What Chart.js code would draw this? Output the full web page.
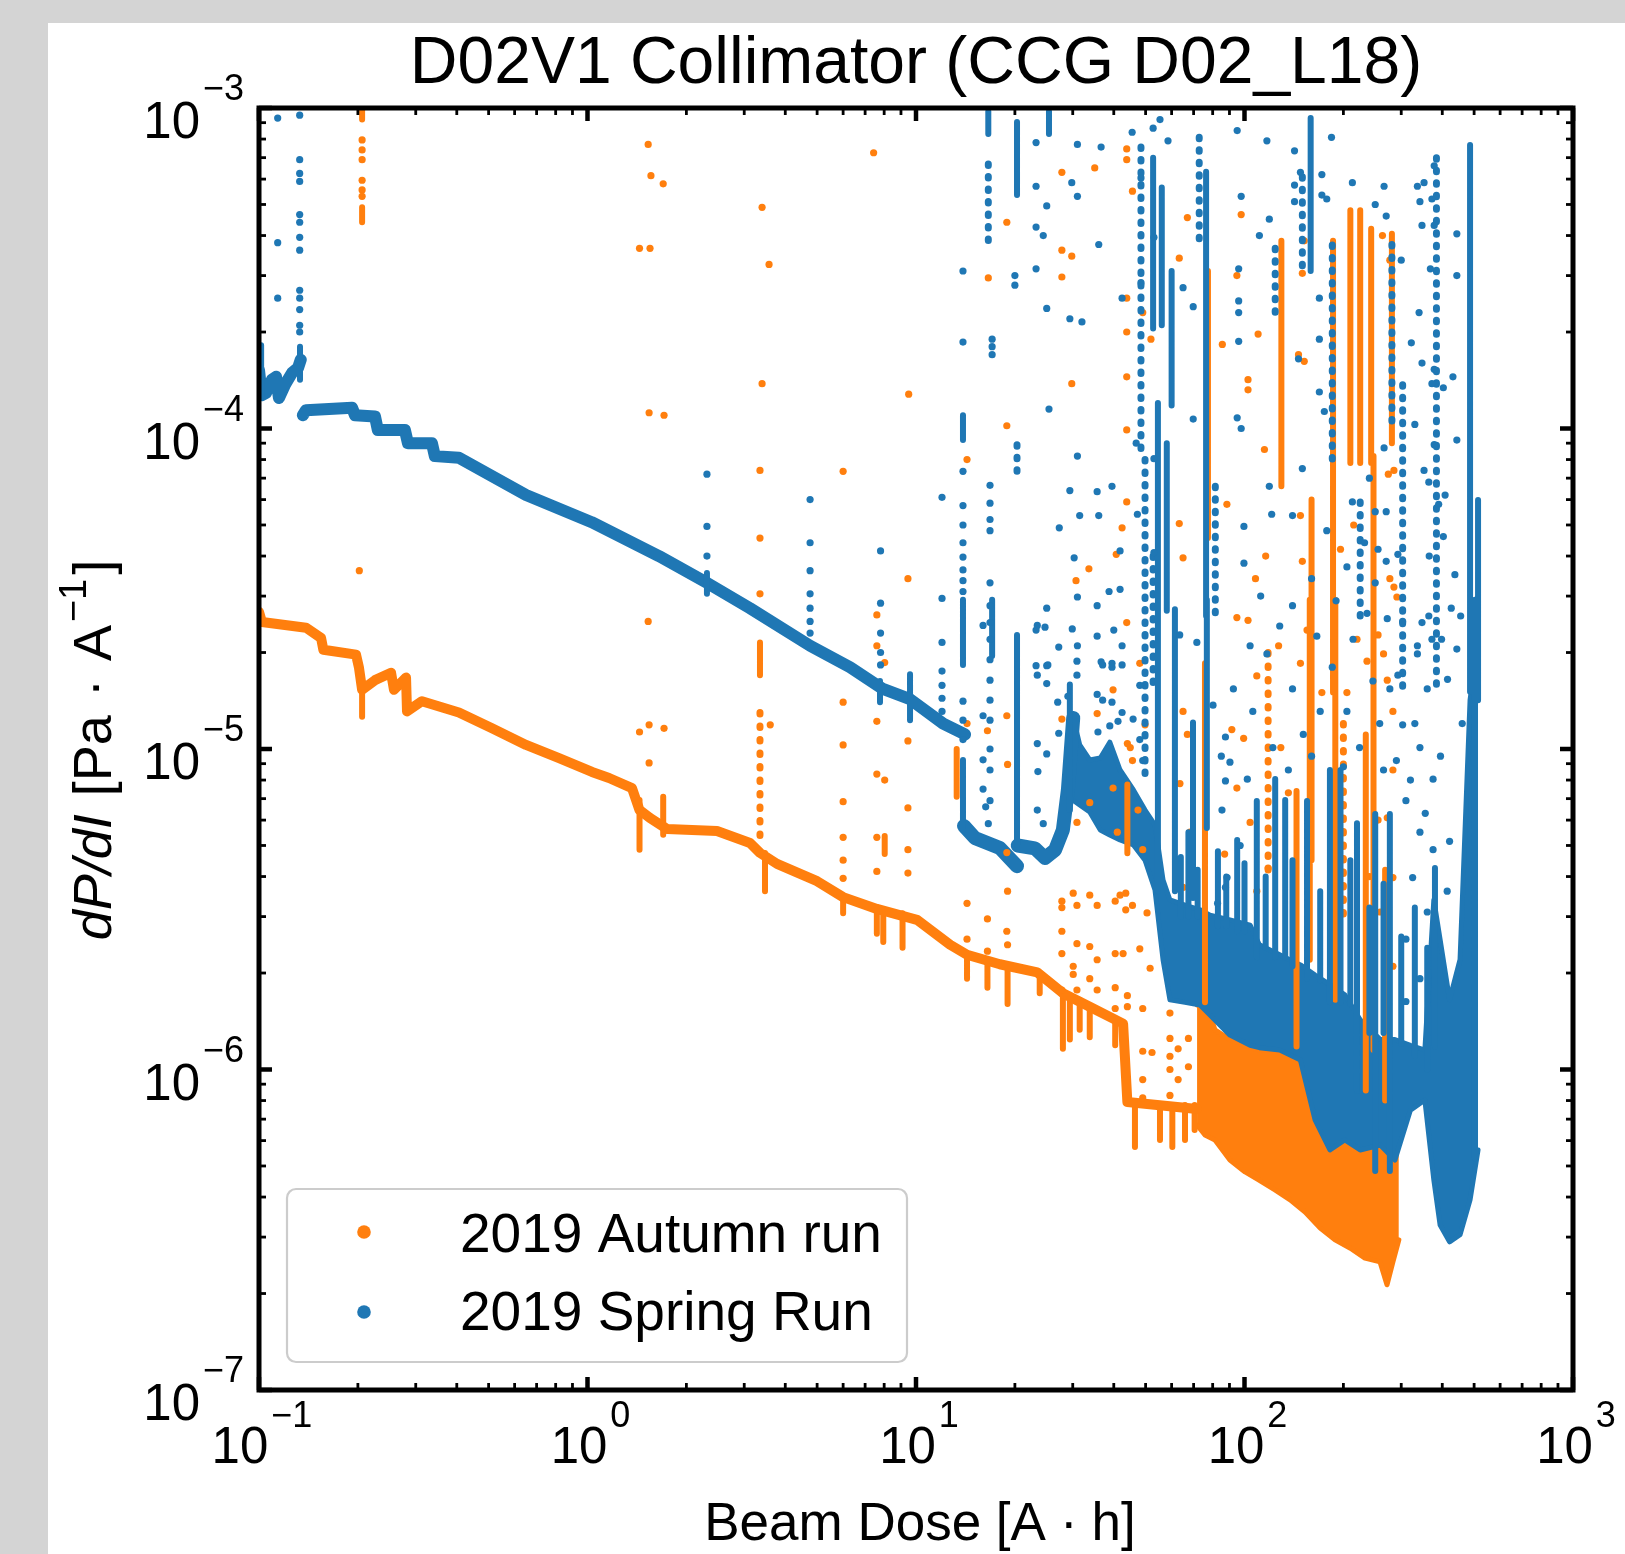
<!DOCTYPE html>
<html><head><meta charset="utf-8">
<script src="https://cdn.jsdelivr.net/npm/chart.js@4.4.0/dist/chart.umd.min.js"></script>
<style>
html,body{margin:0;padding:0;width:1625px;height:1554px;overflow:hidden;background:#d4d4d4;}
#panel{position:absolute;left:48px;top:23px;width:1577px;height:1531px;background:#fff;}
#c{position:absolute;left:0;top:0;}
</style></head><body>
<div id="panel"></div>
<canvas id="c" width="1625" height="1554"></canvas>
<script>
// ---------------- text ----------------
const titleText = 'D02V1 Collimator (CCG D02_L18)';
const xAxisTitleParts = ['Beam Dose [A', '\u00B7', 'h]'];
const seriesNames = ['2019 Autumn run', '2019 Spring Run'];
const xTickExps = [-1, 0, 1, 2, 3];
const yTickExps = [-7, -6, -5, -4, -3];

// ---------------- 2019 Spring Run (blue) ----------------
const springCurveX = [0.1, 0.102, 0.105, 0.1095, 0.1127, 0.115, 0.12, 0.126, 0.1315, 0.134, 0.135,
  0.136, 0.139, 0.192, 0.196, 0.2255, 0.23, 0.278, 0.284, 0.336, 0.343, 0.406, 0.65, 1.03, 1.65, 2.31, 3.12, 4.76, 6.3, 7.93, 9.59, 12.1, 14.1];
const springCurveY = [1.52e-4, 1.27e-4, 1.29e-4, 1.42e-4, 1.45e-4, 1.245e-4, 1.37e-4, 1.49e-4, 1.545e-4, 1.64e-4, null,
  1.10e-4, 1.14e-4, 1.16e-4, 1.10e-4, 1.09e-4, 9.9e-5, 9.9e-5, 9.0e-5, 9.0e-5, 8.2e-5, 8.1e-5, 6.2e-5, 5.1e-5, 4.0e-5, 3.3e-5, 2.75e-5, 2.1e-5, 1.8e-5, 1.54e-5, 1.43e-5, 1.2e-5, 1.11e-5];
const springFloorX = [14.0, 15.1, 18.0, 20.3, 20.35, 20.4, 23.0, 24.7, 26.5, 28.0, 29.0, 30.1];
const springFloorY = [5.75e-6, 5.28e-6, 4.91e-6, 4.31e-6, null, 5.0e-6, 4.9e-6, 4.57e-6, 4.84e-6, 5.59e-6, 7.45e-6, 1.25e-5];
const springBandX = [30, 31.5, 33.8, 36.4, 38.9, 41.8, 45.9, 49.8, 53.4, 56.5, 59.3, 65.9, 73.2, 78.5, 90.3, 104, 111, 128, 148, 164, 182, 202, 225, 259, 287, 320, 354, 377, 394, 421, 453, 486, 514];
const springBandTop = [1.27e-5, 1.03e-5, 9.24e-6, 9.37e-6, 1.05e-5, 8.6e-6, 7.45e-6, 6.45e-6, 5.79e-6, 3.9e-6, 3.38e-6, 3.26e-6, 3.15e-6, 3.03e-6, 2.93e-6, 2.82e-6, 2.45e-6, 2.28e-6, 2.12e-6, 1.97e-6, 1.84e-6, 1.71e-6, 1.43e-6, 1.24e-6, 1.24e-6, 1.19e-6, 1.15e-6, 3.38e-6, 2.54e-6, 1.65e-6, 2.2e-6, 1.42e-5, 2.19e-5];
const springBandBottom = [6.93e-6, 6.69e-6, 6.36e-6, 5.59e-6, 5.39e-6, 5.2e-6, 5.02e-6, 4.5e-6, 3.63e-6, 2.2e-6, 1.65e-6, 1.62e-6, 1.59e-6, 1.48e-6, 1.28e-6, 1.19e-6, 1.17e-6, 1.15e-6, 1.07e-6, 6.96e-7, 5.61e-7, 6.03e-7, 5.61e-7, 5.81e-7, 5.22e-7, 7.47e-7, 8.03e-7, 4.52e-7, 3.27e-7, 2.9e-7, 3.05e-7, 3.92e-7, 5.61e-7];
// dense vertical runs of points: [x, top, bottom]
const springStreaks = [
  [0.1015, 1.82e-4, 1.25e-4], [0.1333, 1.80e-4, 1.42e-4], [2.31, 3.54e-5, 3.05e-5], [7.77, 1.63e-5, 1.40e-5], [9.59, 1.71e-5, 1.23e-5],
  [13.9, 1.10e-4, 9.2e-5], [13.9, 2.92e-5, 1.83e-5], [13.9, 9.24e-6, 5.59e-6], [16.6, 9.79e-4, 8.29e-4],
  [17.05, 2.92e-5, 1.95e-5], [20.3, 9.04e-4, 5.35e-4], [20.3, 2.27e-5, 5.02e-6], [25.4, 9.79e-4, 8.29e-4], [29.4, 1.59e-5, 6.45e-6],
  [52.7, 7.0e-4, 2.05e-4], [56, 5.65e-4, 2.1e-4], [60, 3.1e-4, 1.18e-4], [54.5, 1.2e-4, 2.9e-5], [58, 9.0e-5, 2.7e-5],
  [54.5, 2.92e-5, 3.6e-6], [61.4, 2.73e-5, 3.6e-6], [69.7, 1.21e-5, 3.43e-6], [76.4, 6.32e-4, 2.6e-5], [76.8, 2.92e-5, 5.67e-6],
  [109, 6.88e-6, 2.24e-6], [124, 8.06e-6, 2.24e-6], [133, 6.93e-6, 2.24e-6], [155, 6.88e-6, 1.92e-6], [159, 9.31e-4, 3.1e-4],
  [182, 8.6e-6, 1.62e-6], [196, 8.6e-6, 1.62e-6], [220, 5.87e-6, 8.57e-7], [250, 6.27e-6, 4.82e-7], [277, 6.27e-6, 4.82e-7],
  [380, 4.25e-6, 1.18e-6], [486, 7.67e-4, 1.51e-5], [503, 2.92e-5, 5.29e-7], [514, 5.98e-5, 1.42e-5],
  [64, 4.6e-6, 3.0e-6], [67.5, 5.5e-6, 3.0e-6], [72, 4.2e-6, 3.0e-6], [83, 4.8e-6, 2.8e-6], [88, 4.0e-6, 2.8e-6], [95, 5.2e-6, 2.7e-6],
  [100, 4.4e-6, 2.7e-6], [116, 4.0e-6, 2.4e-6], [140, 4.5e-6, 2.1e-6], [170, 3.6e-6, 1.9e-6], [210, 4.5e-6, 1.6e-6], [240, 3.2e-6, 1.3e-6],
  [265, 3.8e-6, 1.3e-6], [300, 2.6e-6, 1.2e-6], [330, 3.2e-6, 1.1e-6], [360, 2.4e-6, 1.0e-6]
];
// looser vertical columns of separate points: [x, top, bottom]
const springColumns = [
  [16.6, 6.69e-4, 3.85e-4], [20.3, 8.9e-5, 6.8e-5], [48.4, 7.55e-4, 8.0e-5], [49.8, 8.0e-5, 8.0e-6], [52.7, 4.0e-5, 1.5e-5],
  [72.8, 8.1e-4, 3.65e-4], [81.5, 6.6e-5, 2.6e-5], [124, 3.65e-4, 2.2e-4], [150, 6.1e-4, 3.1e-4], [185, 3.74e-4, 7.81e-5],
  [225, 5.9e-5, 2.6e-5], [281, 3.75e-4, 1.03e-4], [303, 1.37e-4, 1.5e-5], [384, 7.0e-4, 1.5e-5]
];
const springDots = [
  [0.114, 9.3e-4], [0.114, 3.8e-4], [0.114, 2.55e-4],
  [0.133, 9.5e-4], [0.133, 6.9e-4], [0.133, 6.25e-4], [0.133, 5.9e-4], [0.133, 4.65e-4], [0.133, 4.4e-4], [0.133, 3.95e-4], [0.133, 3.6e-4], [0.133, 2.7e-4], [0.133, 2.55e-4], [0.133, 2.35e-4], [0.133, 2.1e-4], [0.133, 2.0e-4],
  [2.31, 7.2e-5], [2.31, 4.95e-5], [2.31, 4.0e-5],
  [4.76, 6.0e-5], [4.76, 4.4e-5], [4.76, 3.6e-5], [4.76, 3.05e-5], [4.76, 2.75e-5], [4.76, 2.5e-5], [4.76, 2.3e-5],
  [7.8, 4.15e-5], [7.8, 2.85e-5], [7.8, 2.3e-5], [7.8, 2.0e-5], [7.8, 1.83e-5],
  [12, 6.1e-5], [12, 2.95e-5], [12, 2.15e-5], [12, 1.75e-5], [12, 1.58e-5], [12, 1.44e-5], [12, 1.31e-5],
  [13.9, 3.1e-4], [13.9, 1.86e-4], [13.9, 7.35e-5], [13.9, 5.75e-5], [13.9, 5.0e-5], [13.9, 4.4e-5], [13.9, 3.97e-5], [13.9, 3.62e-5], [13.9, 3.35e-5], [13.9, 3.1e-5], [13.9, 1.41e-5], [13.9, 1.23e-5], [13.9, 1.07e-5],
  [16.8, 6.65e-5], [16.8, 5.85e-5], [16.8, 5.2e-5], [16.8, 4.8e-5], [16.8, 3.3e-5], [16.8, 2.8e-5], [16.8, 2.48e-5], [16.8, 2.2e-5], [16.8, 1.9e-5], [16.8, 1.64e-5], [16.8, 1.42e-5], [16.8, 1.23e-5], [16.8, 1.0e-5], [16.8, 8.6e-6], [16.8, 6.9e-6],
  [17.05, 1.9e-4], [17.05, 1.8e-4], [17.05, 1.7e-4], [20.0, 3.0e-4], [20.0, 2.8e-4],
  [23.2, 7.8e-4], [23.2, 5.7e-4], [23.2, 4.25e-4], [23.2, 3.15e-4], [25, 4.95e-4], [24.4, 4.0e-4], [25, 2.37e-4], [25.4, 1.15e-4],
  [31, 7.7e-4], [29.8, 5.85e-4], [31, 5.3e-4], [29.4, 2.2e-4], [31, 8.2e-5], [29.4, 6.4e-5],
  [36.6, 7.55e-4], [36, 3.75e-4], [35.6, 6.35e-5], [39.5, 6.6e-5], [42.4, 2.55e-4], [46.8, 9.0e-5], [47.2, 5.4e-5],
  [45.5, 8.4e-4], [48.4, 6.05e-4], [52.7, 8.65e-4], [55.3, 9.2e-4], [58.5, 7.9e-4],
  [95, 8.5e-4], [97.7, 5.3e-4], [96, 3.15e-4], [96, 2.5e-4], [95, 1.08e-4], [99.6, 3.8e-5],
  [117, 7.9e-4], [119, 4.5e-4], [111, 4.0e-4], [142, 7.35e-4], [142, 5.75e-4], [148, 6.3e-4], [142, 5.1e-4],
  [172, 6.2e-4], [172, 5.35e-4], [178, 5.2e-4], [184, 8.1e-4], [213, 5.85e-4],
  [250, 5.0e-4], [266, 5.7e-4], [270, 4.6e-4], [300, 3.35e-4],
  [336, 5.7e-4], [352, 5.85e-4], [372, 5.2e-4], [378, 6.6e-4], [342, 5.1e-4], [347, 4.3e-4], [378, 4.3e-4], [368, 3.15e-4], [443, 4.05e-4], [443, 3.0e-4],
  [340, 2.3e-4], [322, 1.85e-4], [347, 1.6e-4], [378, 1.53e-4], [372, 1.38e-4], [403, 1.34e-4], [431, 1.45e-4], [330, 1.03e-4], [378, 8.9e-5], [352, 7.4e-5], [364, 6.8e-5], [443, 9.2e-5], [408, 6.2e-5], [437, 3.5e-5], [403, 4.6e-5], [426, 2.75e-5], [364, 2.6e-5], [347, 2.48e-5], [372, 2.2e-5], [336, 2.1e-5], [443, 2.05e-5],
  [32, 2.15e-4], [53, 3.95e-4], [48.4, 2.85e-4], [53, 4.1e-5], [53, 8.05e-5], [65, 2.75e-4], [69.8, 2.4e-4], [69.8, 1.07e-4], [96, 2.3e-4], [96, 1.87e-4], [97.7, 1.0e-4], [99.6, 4.95e-5], [119, 6.6e-5], [121, 5.4e-5], [140, 5.35e-5], [150, 7.5e-5], [146, 1.65e-4], [169, 2.55e-4], [169, 1.9e-4], [169, 1.3e-4], [175, 1.13e-4], [213, 5.9e-5], [240, 7.0e-5], [250, 5.5e-5], [266, 8.7e-5], [270, 5.5e-5], [255, 4.2e-5], [270, 3.85e-5], [293, 4.05e-5], [293, 1.7e-5],
  [31.5, 5.35e-5], [36, 5.35e-5], [41.8, 4.15e-5], [30.3, 3.95e-5], [31, 2.98e-5], [35.6, 2.8e-5], [38.7, 3.1e-5], [41.8, 3.15e-5], [40, 2.35e-5], [42.4, 2.1e-5], [23.2, 2.35e-5], [25, 2.75e-5], [27.3, 4.9e-5], [24.7, 2.4e-5], [23.2, 1.82e-5], [25, 1.82e-5], [31, 2.1e-5], [29, 1.46e-5], [36.6, 1.87e-5], [39.5, 1.8e-5],
  [16, 2.43e-5], [16, 1.27e-5], [16, 9.25e-6], [16, 7.5e-6], [16.3, 6.6e-6], [16.6, 5.85e-6], [23.4, 2.43e-5], [23.4, 1.7e-5], [25, 1.6e-5], [23.4, 1.04e-5], [25, 9.65e-6], [23.5, 8.5e-6], [23.4, 6.45e-6], [24.4, 5.85e-6], [27, 1.4e-5], [25.2, 1.83e-5], [27.2, 1.12e-5], [27.2, 2.08e-5], [29.9, 2.37e-5], [30.9, 1.88e-5], [30.9, 1.7e-5], [35.6, 2.25e-5], [37, 1.83e-5], [39.5, 1.85e-5], [42.4, 1.83e-5], [35.6, 1.48e-5], [37, 1.42e-5], [39.5, 1.4e-5], [42.4, 1.3e-5], [35.8, 1.13e-5], [38.9, 1.18e-5], [41.2, 1.22e-5], [48, 1.58e-5], [45.8, 1.24e-5], [48, 1.07e-5], [49, 9.2e-6], [63.5, 2.27e-5], [71.6, 2.15e-5], [80.2, 1.37e-5], [87.5, 1.09e-5], [85.4, 6.45e-6], [87.5, 7.95e-6], [90.3, 9.1e-6], [87.5, 3.7e-6], [82.8, 3.3e-6],
  [303, 2.5e-5], [336, 1.98e-5], [360, 1.54e-5], [303, 1.19e-5], [342, 1.01e-5], [375, 8.05e-6], [310, 6.9e-6], [342, 5.5e-6], [375, 4.85e-6], [325, 3.97e-6], [360, 3.1e-6], [310, 2.55e-6], [342, 1.92e-6], [310, 1.63e-6], [414, 3.6e-6], [421, 5.15e-6], [272, 2.55e-5], [277, 1.54e-5], [265, 8.6e-6], [236, 2.65e-5], [246, 1.63e-5], [224, 1.01e-5], [214, 2.2e-5], [205, 1.31e-5], [128, 2.42e-5], [117, 1.98e-5], [140, 1.54e-5], [106, 1.31e-5], [122, 1.01e-5], [136, 8.6e-6], [102, 8.05e-6], [92.5, 1.54e-5], [85, 9.5e-6], [97, 5.0e-6], [88.5, 3.97e-6], [166, 2.25e-5], [151, 1.11e-5], [170, 1.31e-5],
  [320, 8.0e-6], [330, 1.2e-5], [355, 6.3e-6], [395, 9.5e-6], [398, 2.2e-5], [415, 1.65e-5], [455, 2.6e-5], [460, 1.2e-5], [250, 3.3e-5], [232, 4.4e-5], [205, 3.7e-5], [190, 2.9e-5], [178, 4.8e-5], [160, 3.4e-5], [140, 2.8e-5], [112, 3.0e-5], [104, 2.1e-5], [185, 1.8e-5], [200, 8.8e-6], [160, 9.5e-6], [258, 1.2e-5], [290, 9.2e-6], [365, 4.0e-5], [390, 5.8e-5]
];

// ---------------- 2019 Autumn run (orange) ----------------
const autumnCurveX = [0.1, 0.1021, 0.139, 0.1545, 0.157, 0.1974, 0.2016, 0.206, 0.2255, 0.2523, 0.2576, 0.2803, 0.2822, 0.3134, 0.406, 0.512, 0.65, 0.819, 1.032, 1.163, 1.366, 1.44, 1.55, 1.746, 2.479, 3.124, 3.35, 3.776, 5.0, 6.0, 7.6, 10.07, 12.7, 14.3, 18.0, 23.4, 28, 33.8, 42.7, 44, 71.7];
const autumnCurveY = [2.68e-5, 2.49e-5, 2.39e-5, 2.22e-5, 2.04e-5, 1.97e-5, 1.79e-5, 1.53e-5, 1.64e-5, 1.73e-5, 1.53e-5, 1.67e-5, 1.31e-5, 1.41e-5, 1.30e-5, 1.16e-5, 1.03e-5, 9.37e-6, 8.48e-6, 8.12e-6, 7.55e-6, 6.45e-6, 6.09e-6, 5.63e-6, 5.55e-6, 5.09e-6, 4.74e-6, 4.38e-6, 3.87e-6, 3.45e-6, 3.17e-6, 2.93e-6, 2.45e-6, 2.28e-6, 2.13e-6, 2.01e-6, 1.73e-6, 1.57e-6, 1.39e-6, 7.92e-7, 7.53e-7];
const autumnDips = [
  [0.206, 1.61e-5, 1.26e-5], [1.44, 6.93e-6, 4.85e-6], [1.70, 7.1e-6, 5.4e-6], [3.47, 4.74e-6, 3.6e-6], [6.0, 3.45e-6, 3.07e-6],
  [7.6, 3.17e-6, 2.65e-6], [7.95, 3.03e-6, 2.5e-6], [9.1, 3.07e-6, 2.4e-6], [14.3, 2.28e-6, 1.92e-6], [16.5, 2.15e-6, 1.8e-6],
  [19.0, 2.07e-6, 1.6e-6], [23.8, 1.96e-6, 1.73e-6], [28, 1.73e-6, 1.16e-6], [29.4, 1.7e-6, 1.24e-6], [31.5, 1.65e-6, 1.33e-6],
  [33.8, 1.57e-6, 1.26e-6], [40.4, 1.42e-6, 1.19e-6], [46.4, 7.75e-7, 5.73e-7], [55.3, 7.75e-7, 6.03e-7], [60.3, 7.75e-7, 5.73e-7],
  [65.9, 7.75e-7, 6.03e-7], [70.5, 7.75e-7, 6.48e-7]
];
const autumnBandX = [71.7, 75.8, 81.3, 90.3, 100.4, 110.7, 123.8, 137.7, 152.9, 170, 188.6, 210, 232.7, 258.6, 271.5, 283, 295];
const autumnBandTop = [1.59e-6, 1.65e-6, 1.33e-6, 1.24e-6, 1.19e-6, 1.15e-6, 1.15e-6, 1.15e-6, 1.11e-6, 1.07e-6, 9.6e-7, 8.63e-7, 8.33e-7, 8.33e-7, 8.63e-7, 9.27e-7, 1.07e-6];
const autumnBandBottom = [6.71e-7, 6.25e-7, 6.03e-7, 5.22e-7, 4.79e-7, 4.52e-7, 4.21e-7, 3.92e-7, 3.59e-7, 3.2e-7, 2.94e-7, 2.77e-7, 2.58e-7, 2.51e-7, 2.13e-7, 2.51e-7, 2.94e-7];
const autumnStreaks = [
  [0.206, 9.9e-4, 9.2e-4], [0.206, 4.9e-4, 4.4e-4], [3.35, 2.15e-5, 1.7e-5],
  [8.03, 5.35e-6, 4.7e-6], [13.3, 1.0e-5, 7.1e-6], [44, 7.75e-6, 4.73e-6], [77.4, 3.1e-4, 4.55e-5], [75.8, 1.85e-5, 1.62e-6],
  [129.5, 3.85e-4, 6.6e-5], [160, 6.0e-5, 4.5e-6], [158, 2.92e-5, 2.2e-6], [186, 3.85e-4, 1.5e-5], [210, 4.8e-4, 7.8e-5], [225, 4.8e-4, 7.8e-5],
  [243, 4.2e-4, 7.8e-5], [247, 8.2e-5, 1.15e-6], [281, 4.05e-4, 9.0e-5], [144, 7.4e-6, 1.18e-6],
  [189, 2.92e-5, 1.65e-6], [234, 1.11e-5, 8.6e-7], [268, 4.2e-6, 8.0e-7]
];
const autumnColumns = [
  [3.35, 1.3e-5, 5.3e-6], [200, 1.2e-5, 3.0e-6], [118, 2.0e-5, 4.0e-6]
];
const autumnDots = [
  [0.206, 7.95e-4], [0.206, 7.4e-4], [0.206, 6.9e-4], [0.206, 5.95e-4], [0.206, 5.55e-4], [0.206, 5.3e-4], [0.202, 3.6e-5],
  [1.53, 7.7e-4], [1.56, 6.15e-4], [1.70, 5.8e-4], [1.44, 3.65e-4], [1.55, 3.65e-4], [1.54, 1.12e-4], [1.71, 1.1e-4], [1.53, 2.5e-5], [1.44, 1.13e-5], [1.54, 1.19e-5], [1.71, 1.16e-5], [1.54, 9.05e-6],
  [3.35, 7.4e-5], [3.35, 4.55e-5], [3.35, 3.05e-5], [3.4, 4.9e-4], [3.57, 3.25e-4], [3.4, 1.38e-4], [3.6, 1.19e-5],
  [6.0, 7.35e-5], [6.0, 1.4e-5], [6.0, 1.03e-5], [6.0, 6.85e-6], [6.0, 5.3e-6], [6.0, 4.5e-6], [6.0, 3.95e-6],
  [7.43, 7.25e-4], [7.6, 2.62e-5], [7.6, 2.1e-5], [7.6, 1.22e-5], [7.6, 8.35e-6], [7.6, 5.3e-6], [7.6, 4.15e-6], [8.03, 1.86e-5], [8.03, 8.0e-6],
  [9.5, 1.28e-4], [9.45, 3.4e-5], [9.45, 1.06e-5], [9.45, 6.55e-6], [9.45, 4.85e-6], [9.45, 4.1e-6],
  [14.3, 8.0e-5], [14.3, 1.2e-5], [14.3, 3.3e-6], [14.3, 2.55e-6], [16.5, 1.14e-5], [16.5, 2.95e-6], [16.5, 2.34e-6], [16.6, 2.95e-4],
  [18.9, 4.4e-4], [18.9, 1.02e-4], [18.9, 1.27e-5], [18.9, 4.75e-6], [18.9, 2.7e-6], [19.0, 8.95e-6], [19.0, 3.6e-6], [19.0, 2.45e-6],
  [27.8, 6.3e-4], [27.8, 3.6e-4], [27.8, 2.97e-4], [27.8, 1.24e-5], [27.8, 3.35e-6], [27.8, 3.2e-6], [27.8, 2.7e-6], [27.8, 2.3e-6], [27.8, 1.77e-6],
  [29.8, 3.45e-4], [29.8, 1.38e-4], [30.1, 3.55e-6], [30.1, 2.1e-6], [30.1, 1.98e-6], [30.7, 3.35e-5], [30.9, 5.9e-6], [30.9, 3.25e-6], [30.9, 2.47e-6], [30.9, 1.77e-6],
  [33.6, 3.65e-5], [33.8, 6.8e-6], [33.8, 3.5e-6], [33.8, 2.42e-6], [33.8, 1.92e-6], [35, 6.5e-4], [35.6, 1.29e-5], [35.6, 3.25e-6], [35.6, 2.2e-6], [35.6, 1.77e-6],
  [39.8, 1.53e-5], [39.8, 7.55e-6], [40.4, 3.35e-6], [40.4, 2.3e-6], [40.4, 1.8e-6], [40.4, 1.55e-6], [40.7, 4.05e-5], [41, 5.5e-6], [41.8, 3.5e-6], [42.4, 4.9e-5], [42.7, 2.3e-6],
  [43.8, 7.45e-4], [43.8, 6.9e-4], [45.6, 5.5e-4], [43.8, 2.55e-4], [49, 2.3e-4], [43.8, 2.0e-4], [51.9, 1.9e-4], [43.8, 1.45e-4], [43.8, 9.9e-5], [43.8, 5.9e-5], [43.8, 2.48e-5], [44, 1.04e-5], [45.6, 9.2e-6], [43.5, 3.55e-6], [43.5, 3.15e-6], [44, 1.7e-6], [44, 1.57e-6], [45.6, 3.25e-6], [44.9, 1.01e-5],
  [47.4, 6.45e-6], [48, 1.85e-5], [48, 2.38e-6], [49, 4.85e-6], [49, 1.55e-6], [49, 1.14e-6], [49, 9.3e-7], [49, 8.15e-7], [49.8, 1.19e-5], [50.5, 3.08e-6], [51.6, 2.07e-6], [52.3, 1.13e-6],
  [59.3, 1.5e-6], [59.3, 1.25e-6], [59.3, 1.1e-6], [59.3, 1.0e-6], [59.3, 8.3e-7], [62.8, 1.16e-6], [62.8, 9.3e-7], [63.3, 3.4e-4], [63.3, 5.05e-5], [63.6, 7.8e-6], [65, 3.95e-5], [65, 1.31e-5], [65, 3.7e-6], [67, 4.55e-4], [67, 1.11e-5], [67.5, 1.25e-6], [67.5, 1.02e-6], [68.3, 5.5e-6],
  [85.6, 1.83e-4], [87, 4.7e-6], [88.4, 5.8e-5], [91.5, 1.15e-5], [94.8, 3.0e-4], [94.8, 2.57e-5], [94.8, 7.55e-6], [97.7, 4.65e-4], [99.4, 1.08e-5], [102.5, 1.42e-4], [102.5, 1.32e-4], [102.5, 2.52e-5], [104, 5.9e-6], [108, 3.4e-5], [109, 1.69e-5], [109, 3.6e-6], [110, 1.97e-4], [115, 8.6e-5], [116, 4.0e-5], [118, 4.25e-6], [127, 2.1e-5], [129, 1.01e-5], [136, 7.3e-6],
  [146, 1.7e-4], [148, 5.35e-5], [148, 1.85e-5], [150, 3.05e-4], [150, 3.85e-5], [152, 3.85e-4], [152, 1.62e-4], [155, 2.35e-5],
  [236, 1.88e-5], [255, 2.27e-5], [263, 4.0e-4], [265, 1.98e-5], [272, 1.64e-5], [272, 6.1e-6], [274, 7.2e-5], [277, 3.35e-4], [277, 3.4e-5], [283, 1.31e-5], [283, 8.6e-6], [283, 3.97e-6], [283, 2.1e-6], [285, 7.4e-5], [285, 3.2e-5], [291, 2.98e-5], [259, 3.1e-6],
  [215, 5.0e-5], [220, 2.2e-5], [205, 1.5e-5], [196, 4.2e-5], [172, 1.5e-5], [255, 6.0e-6], [240, 4.0e-6]
];

// ---------------- chart ----------------
const BLUE = '#1f77b4', ORANGE = '#ff7f0e';
const FONT = '"Liberation Sans", Arial, sans-serif';

const pts = (xs, ys) => xs.map((x, i) => ({x: x, y: ys[i]}));
const runs = (arr) => { const out = []; arr.forEach(r => { out.push({x: r[0], y: r[1]}, {x: r[0], y: r[2]}, {x: r[0], y: null}); }); return out; };
const dots = (arr) => arr.map(p => ({x: p[0], y: p[1]}));

function lineDs(data, color, width, order, extra) {
  return Object.assign({type: 'line', data: data, borderColor: color, backgroundColor: color, borderWidth: width,
    pointRadius: 0, fill: false, tension: 0, spanGaps: false, borderCapStyle: 'round', borderJoinStyle: 'round', order: order}, extra || {});
}
function dotDs(data, color, order) {
  return {type: 'line', data: data, showLine: false, pointRadius: 3.6, pointBorderWidth: 0, pointBackgroundColor: color,
    borderColor: color, backgroundColor: color, order: order};
}

const datasets = [
  lineDs(pts(autumnBandX, autumnBandTop), ORANGE, 5, 10),
  lineDs(pts(autumnBandX, autumnBandBottom), ORANGE, 5, 10, {fill: '-1'}),
  lineDs(pts(autumnCurveX, autumnCurveY), ORANGE, 10, 9),
  lineDs(runs(autumnDips), ORANGE, 6, 9),
  lineDs(pts(springBandX, springBandTop), BLUE, 5, 8),
  lineDs(pts(springBandX, springBandBottom), BLUE, 5, 8, {fill: '-1'}),
  lineDs(pts(springCurveX, springCurveY), BLUE, 12, 7),
  lineDs(pts(springFloorX, springFloorY), BLUE, 14, 7),
  lineDs(runs(autumnStreaks), ORANGE, 6, 6),
  lineDs(runs(autumnColumns), ORANGE, 7, 6, {borderDash: [1.5, 12]}),
  dotDs(dots(autumnDots), ORANGE, 5),
  lineDs(runs(springStreaks), BLUE, 6, 4),
  lineDs(runs(springColumns), BLUE, 7, 4, {borderDash: [1.5, 11]}),
  dotDs(dots(springDots), BLUE, 3)
];

function drawPow(ctx, e, x, y, mode) {
  const big = '51px ' + FONT, small = '36px ' + FONT;
  const ex = (e < 0 ? '\u2212' + Math.abs(e) : String(e));
  ctx.fillStyle = '#000';
  ctx.textBaseline = 'alphabetic';
  if (mode === 'y') {
    ctx.font = big; ctx.textAlign = 'right'; ctx.fillText('10', 200, y + 30);
    ctx.font = small; ctx.textAlign = 'left'; ctx.fillText(ex, 203, y - 8);
  } else {
    ctx.font = big; const w10 = ctx.measureText('10').width;
    ctx.font = small; const wE = ctx.measureText(ex).width;
    const start = x - (w10 + 3 + wE) / 2 + 3;
    ctx.textAlign = 'left';
    ctx.font = big; ctx.fillText('10', start, y + 73);
    ctx.font = small; ctx.fillText(ex, start + w10 + 3, y + 37);
  }
}

function drawParts(ctx, parts, cx0, base) {
  let total = 0;
  parts.forEach(p => { ctx.font = p.f; p.w = ctx.measureText(p.t).width; total += p.w + p.gap; });
  total -= parts[parts.length - 1].gap;
  let cx = cx0 - total / 2;
  ctx.textAlign = 'left';
  parts.forEach(p => { ctx.font = p.f; ctx.fillText(p.t, cx, base + p.dy); cx += p.w + p.gap; });
}

const decor = {
  id: 'decor',
  afterDraw(chart) {
    const ctx = chart.ctx;
    const a = chart.chartArea;
    const xs = chart.scales.x, ys = chart.scales.y;
    ctx.save();
    ctx.strokeStyle = '#000';
    ctx.lineCap = 'butt';
    const tick = (x1, y1, x2, y2, w) => { ctx.lineWidth = w; ctx.beginPath(); ctx.moveTo(x1, y1); ctx.lineTo(x2, y2); ctx.stroke(); };
    for (let e = -1; e <= 3; e++) {
      for (let m = 1; m <= 9; m++) {
        if (e === 3 && m > 1) break;
        const px = xs.getPixelForValue(m * Math.pow(10, e));
        const L = m === 1 ? 13 : 7, W = m === 1 ? 4.5 : 2.8;
        tick(px, a.bottom, px, a.bottom - L, W);
        tick(px, a.top, px, a.top + L, W);
      }
    }
    for (let e = -7; e <= -3; e++) {
      for (let m = 1; m <= 9; m++) {
        if (e === -3 && m > 1) break;
        const py = ys.getPixelForValue(m * Math.pow(10, e));
        const L = m === 1 ? 13 : 7, W = m === 1 ? 4.5 : 2.8;
        tick(a.left, py, a.left + L, py, W);
        tick(a.right, py, a.right - L, py, W);
      }
    }
    ctx.lineWidth = 5;
    ctx.strokeRect(a.left, a.top, a.right - a.left, a.bottom - a.top);
    xTickExps.forEach(e => drawPow(ctx, e, xs.getPixelForValue(Math.pow(10, e)), a.bottom, 'x'));
    yTickExps.forEach(e => drawPow(ctx, e, 0, ys.getPixelForValue(Math.pow(10, e)), 'y'));
    ctx.fillStyle = '#000';
    ctx.font = '66px ' + FONT; ctx.textAlign = 'center';
    ctx.fillText(titleText, (a.left + a.right) / 2, 83);
    const N = '53px ' + FONT;
    drawParts(ctx, [
      {t: xAxisTitleParts[0], f: N, dy: 0, gap: 14},
      {t: xAxisTitleParts[1], f: N, dy: 0, gap: 14},
      {t: xAxisTitleParts[2], f: N, dy: 0, gap: 0}
    ], (a.left + a.right) / 2 + 4, 1540);
    ctx.save();
    ctx.translate(111, 750);
    ctx.rotate(-Math.PI / 2);
    const Y = '54px ' + FONT;
    drawParts(ctx, [
      {t: 'dP/dI', f: 'italic 54px ' + FONT, dy: 0, gap: 18},
      {t: '[Pa', f: Y, dy: 0, gap: 18},
      {t: '\u00B7', f: Y, dy: 0, gap: 18},
      {t: 'A', f: Y, dy: 0, gap: 3},
      {t: '\u22121', f: '38px ' + FONT, dy: -25, gap: 4},
      {t: ']', f: Y, dy: 0, gap: 0}
    ], 0, 0);
    ctx.restore();
    const lx = 287, ly = 1189, lw = 620, lh = 173, r = 9;
    ctx.beginPath();
    ctx.moveTo(lx + r, ly); ctx.lineTo(lx + lw - r, ly); ctx.arcTo(lx + lw, ly, lx + lw, ly + r, r);
    ctx.lineTo(lx + lw, ly + lh - r); ctx.arcTo(lx + lw, ly + lh, lx + lw - r, ly + lh, r);
    ctx.lineTo(lx + r, ly + lh); ctx.arcTo(lx, ly + lh, lx, ly + lh - r, r);
    ctx.lineTo(lx, ly + r); ctx.arcTo(lx, ly, lx + r, ly, r); ctx.closePath();
    ctx.fillStyle = 'rgba(255,255,255,0.8)'; ctx.fill();
    ctx.strokeStyle = '#cccccc'; ctx.lineWidth = 2.2; ctx.stroke();
    const rows = [[ORANGE, 1232, 1252], [BLUE, 1312, 1330]];
    rows.forEach((row, i) => {
      ctx.fillStyle = row[0]; ctx.beginPath(); ctx.arc(364, row[1], 6.8, 0, Math.PI * 2); ctx.fill();
      ctx.fillStyle = '#000'; ctx.font = '55px ' + FONT; ctx.textAlign = 'left';
      ctx.fillText(seriesNames[i], 460, row[2]);
    });
    ctx.restore();
  }
};

new Chart(document.getElementById('c'), {
  type: 'line',
  data: {datasets: datasets},
  options: {
    responsive: false, devicePixelRatio: 1, animation: false,
    layout: {padding: {left: 259, top: 108, right: 52, bottom: 164}},
    plugins: {legend: {display: false}, tooltip: {enabled: false}, title: {display: false}},
    scales: {
      x: {type: 'logarithmic', min: 0.1, max: 1000, display: false},
      y: {type: 'logarithmic', min: 1e-7, max: 1e-3, display: false}
    }
  },
  plugins: [decor]
});
</script></body></html>
